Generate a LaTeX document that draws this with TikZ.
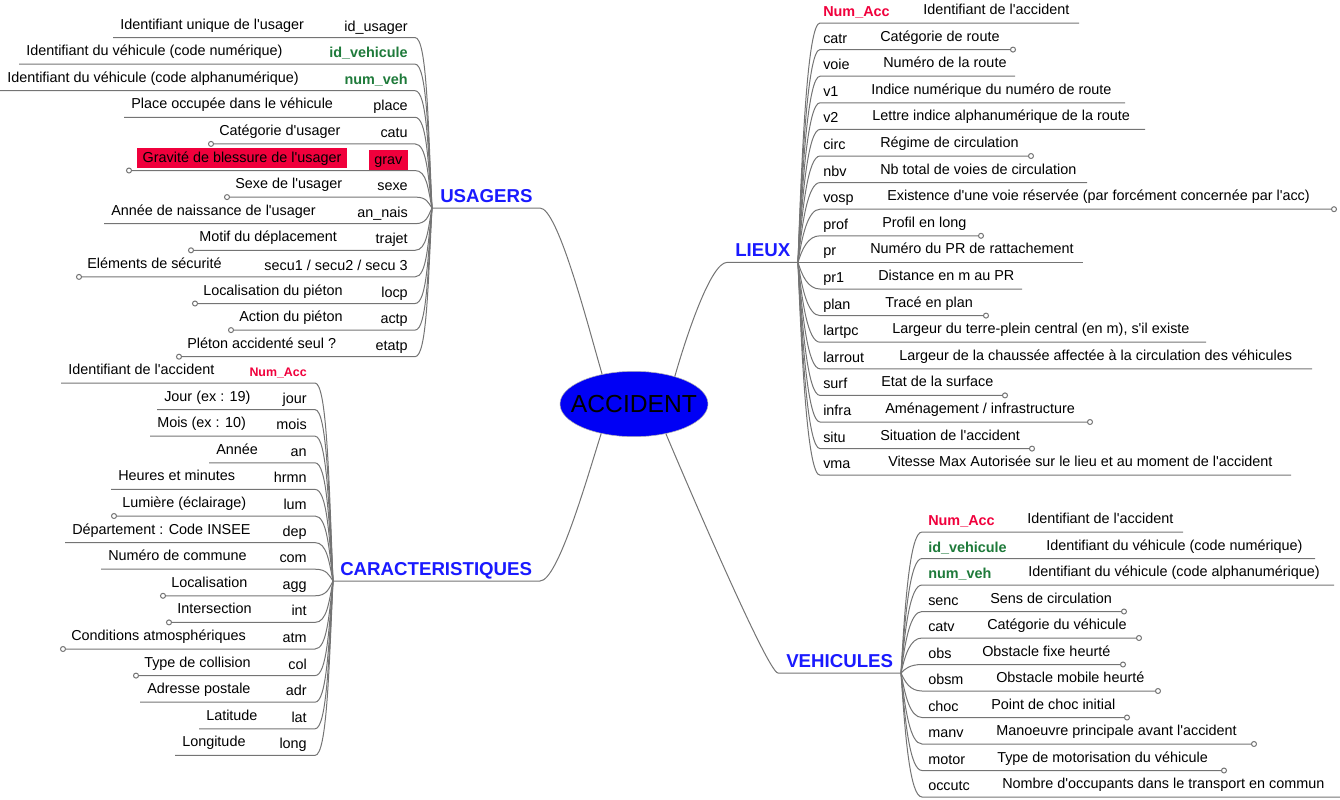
\documentclass[tikz,border=0pt]{standalone}
\usepackage{fontspec}
\setmainfont{Liberation Sans}[Ligatures=TeXOff]
\usepackage{tikz}
\usetikzlibrary{calc,arrows.meta,shapes.geometric}
\definecolor{topicblue}{HTML}{1A1AFF}
\definecolor{hubfill}{HTML}{0000F5}
\definecolor{keyred}{HTML}{F0003C}
\definecolor{keygreen}{HTML}{1E7A3A}
\definecolor{linegray}{HTML}{747474}
\tikzset{
  % --- centre and main topics ---
  centre/.style={ellipse, draw=gray!60, fill=hubfill, inner sep=0pt,
                 minimum width=111pt, minimum height=49pt,
                 font=\fontsize{18.5}{20}\selectfont},
  topic/.style={font=\fontsize{14}{16}\selectfont\bfseries, text=topicblue,
                anchor=base west, inner sep=0pt},
  link/.style={draw=linegray, line width=0.75pt},
  % --- field rows (code + description on one underline) ---
  field/.style={font=\fontsize{10.8}{13}\selectfont, inner sep=0pt,
                text height=8pt, text depth=2.2pt},
  rowcode/.style={field},
  rowdesc/.style={field},
  keyacc/.style={text=keyred, font=\fontsize{10.8}{13}\selectfont\bfseries},
  keyaccsmall/.style={text=keyred, font=\fontsize{9.3}{11}\selectfont\bfseries},
  keyveh/.style={text=keygreen, font=\fontsize{10.8}{13}\selectfont\bfseries},
  flagged/.style={fill=keyred, inner xsep=4pt, inner ysep=2.5pt},
  twig/.style={link},
  knob/.style={-{Circle[open, length=4.5pt]}, shorten >=-3pt},
}
% row on the left of its hub: [code style]{name}{y}{far x}{code}{description}{line style}
\newcommand{\lrow}[7][]{%
  \coordinate (#2-far) at (#4,#3);
  \node[rowcode,#1,anchor=base east] (#2) at (\codex,#3-6.5) {#5};
  \node[rowdesc,anchor=base west] (#2-txt) at (#4+7,#3-8.5) {#6};
  \draw[twig,#7] (\hub) .. controls (\hubx-4,{(#3+\huby)/2}) and (\bendx+12,#3)
        .. (\bendx,#3) -- (#2-far);
}
% row on the right of its hub: [code style]{name}{y}{description x}{far x}{code}{description}{line style}
\newcommand{\rrow}[8][]{%
  \coordinate (#2-far) at (#5,#3);
  \node[rowcode,#1,anchor=base west] (#2) at (\codex,#3-6.5) {#6};
  \node[rowdesc,anchor=base west] (#2-txt) at (#4,#3-8.5) {#7};
  \draw[twig,#8] (\hub) .. controls (\hubx+4,{(#3+\huby)/2}) and (\bendx-12,#3)
        .. (\bendx,#3) -- (#2-far);
}

\begin{document}
\begin{tikzpicture}[x=0.75pt, y=-0.75pt]
  \useasboundingbox (0,0) rectangle (1340,800);

  % centre
  \node[centre] (acc) at (634,404) {\makebox[0pt]{ACCIDENT}};

  % main topics, each with its underline running from its hub
  \coordinate (uhub) at (432,208);   \coordinate (uknee) at (540,208);
  \coordinate (chub) at (333,581);   \coordinate (cknee) at (540,581);
  \coordinate (lhub) at (798,262.4); \coordinate (lknee) at (727,262.4);
  \coordinate (vhub) at (901,673);   \coordinate (vknee) at (778,673);
  \node[topic] (usagers) at (440,202)   {USAGERS};
  \node[topic] (caract)  at (340,575)   {CARACTERISTIQUES};
  \node[topic] (lieux)   at (735,256.4) {LIEUX};
  \node[topic] (vehic)   at (786,667)   {VEHICULES};
  \draw[link] (uhub) -- (uknee) .. controls +(18,0) and +(-14,-48) .. (acc.137);
  \draw[link] (chub) -- (cknee) .. controls +(18,0) and +(-14,44) .. (acc.222);
  \draw[link] (lhub) -- (lknee) .. controls +(-16,0) and +(12,-42) .. (acc.34);
  \draw[link] (vhub) -- (vknee) .. controls +(-10,0) and +(22,52) .. (acc.317);

  % USAGERS
  \def\hub{uhub}\def\hubx{432}\def\huby{208}\def\bendx{415}\def\codex{408}
  \lrow{u-idusager}{37.5}{113}{id\_usager}{Identifiant unique de l'usager}{}
  \lrow[keyveh]{u-idveh}{64.1}{19}{id\_vehicule}{Identifiant du véhicule (code numérique)}{}
  \lrow[keyveh]{u-numveh}{90.7}{0}{num\_veh}{Identifiant du véhicule (code alphanumérique)}{}
  \lrow{u-place}{117.3}{124}{place}{Place occupée dans le véhicule}{}
  \lrow{u-catu}{143.9}{212}{catu}{Catégorie d'usager}{knob}
  \begin{scope}[rowdesc/.style={field,flagged}]
    \lrow[flagged]{u-grav}{170.5}{130}{grav}{Gravité de blessure de l'usager}{knob}
  \end{scope}
  \lrow{u-sexe}{197.1}{228}{sexe}{Sexe de l'usager}{knob}
  \lrow{u-annais}{223.7}{104}{an\_nais}{Année de naissance de l'usager}{}
  \lrow{u-trajet}{250.3}{192}{trajet}{Motif du déplacement}{knob}
  \lrow{u-secu}{276.9}{80}{secu1 / secu2 / secu 3}{Eléments de sécurité}{knob}
  \lrow{u-locp}{303.5}{196}{locp}{Localisation du piéton}{knob}
  \lrow{u-actp}{330.1}{232}{actp}{Action du piéton}{knob}
  \lrow{u-etatp}{356.7}{180}{etatp}{Pléton accidenté seul ?}{knob}

  % CARACTERISTIQUES
  \def\hub{chub}\def\hubx{333}\def\huby{581}\def\bendx{315}\def\codex{307}
  \lrow[keyaccsmall]{c-numacc}{383}{61}{Num\_Acc}{Identifiant de l'accident}{}
  \lrow{c-jour}{409.6}{157}{jour}{Jour (ex : 19)}{}
  \lrow{c-mois}{436.2}{150}{mois}{Mois (ex : 10)}{}
  \lrow{c-an}{462.8}{209}{an}{Année}{}
  \lrow{c-hrmn}{489.4}{111}{hrmn}{Heures et minutes}{}
  \lrow{c-lum}{516}{115}{lum}{Lumière (éclairage)}{knob}
  \lrow{c-dep}{542.6}{65}{dep}{Département : Code INSEE}{}
  \lrow{c-com}{569.2}{101}{com}{Numéro de commune}{}
  \lrow{c-agg}{595.8}{164}{agg}{Localisation}{knob}
  \lrow{c-int}{622.4}{170}{int}{Intersection}{knob}
  \lrow{c-atm}{649}{64}{atm}{Conditions atmosphériques}{knob}
  \lrow{c-col}{675.6}{137}{col}{Type de collision}{knob}
  \lrow{c-adr}{702.2}{140}{adr}{Adresse postale}{}
  \lrow{c-lat}{728.8}{199}{lat}{Latitude}{}
  \lrow{c-long}{755.4}{175}{long}{Longitude}{}

  % LIEUX
  \def\hub{lhub}\def\hubx{798}\def\huby{262.4}\def\bendx{820}\def\codex{823}
  \rrow[keyacc]{l-numacc}{23}{923}{1079}{Num\_Acc}{Identifiant de l'accident}{}
  \rrow{l-catr}{49.6}{880}{1012}{catr}{Catégorie de route}{knob}
  \rrow{l-voie}{76.2}{883}{1015}{voie}{Numéro de la route}{}
  \rrow{l-v1}{102.8}{871}{1125}{v1}{Indice numérique du numéro de route}{}
  \rrow{l-v2}{129.4}{872}{1145}{v2}{Lettre indice alphanumérique de la route}{}
  \rrow{l-circ}{156}{880}{1030}{circ}{Régime de circulation}{knob}
  \rrow{l-nbv}{182.6}{880}{1087}{nbv}{Nb total de voies de circulation}{}
  \rrow{l-vosp}{209.2}{887}{1333}{vosp}{Existence d'une voie réservée (par forcément concernée par l'acc)}{knob}
  \rrow{l-prof}{235.8}{882}{980}{prof}{Profil en long}{knob}
  \rrow{l-pr}{262.4}{870}{1083}{pr}{Numéro du PR de rattachement}{}
  \rrow{l-pr1}{289}{878}{1022}{pr1}{Distance en m au PR}{}
  \rrow{l-plan}{315.6}{885}{985}{plan}{Tracé en plan}{knob}
  \rrow{l-lartpc}{342.2}{892}{1206}{lartpc}{Largeur du terre-plein central (en m), s'il existe}{}
  \rrow{l-larrout}{368.8}{899}{1312}{larrout}{Largeur de la chaussée affectée à la circulation des véhicules}{}
  \rrow{l-surf}{395.4}{881}{1004}{surf}{Etat de la surface}{knob}
  \rrow{l-infra}{422}{885}{1089}{infra}{Aménagement / infrastructure}{knob}
  \rrow{l-situ}{448.6}{880}{1031}{situ}{Situation de l'accident}{knob}
  \rrow{l-vma}{475.2}{888}{1291}{vma}{Vitesse Max Autorisée sur le lieu et au moment de l'accident}{}

  % VEHICULES
  \def\hub{vhub}\def\hubx{901}\def\huby{673}\def\bendx{922}\def\codex{928}
  \rrow[keyacc]{v-numacc}{532}{1027}{1183}{Num\_Acc}{Identifiant de l'accident}{}
  \rrow[keyveh]{v-idveh}{558.5}{1046}{1315}{id\_vehicule}{Identifiant du véhicule (code numérique)}{}
  \rrow[keyveh]{v-numveh}{585}{1028}{1334}{num\_veh}{Identifiant du véhicule (code alphanumérique)}{}
  \rrow{v-senc}{611.5}{990}{1123}{senc}{Sens de circulation}{knob}
  \rrow{v-catv}{638}{987}{1138}{catv}{Catégorie du véhicule}{knob}
  \rrow{v-obs}{664.5}{982}{1122}{obs}{Obstacle fixe heurté}{knob}
  \rrow{v-obsm}{691}{996}{1157}{obsm}{Obstacle mobile heurté}{knob}
  \rrow{v-choc}{717.5}{991}{1126}{choc}{Point de choc initial}{knob}
  \rrow{v-manv}{744}{996}{1253}{manv}{Manoeuvre principale avant l'accident}{knob}
  \rrow{v-motor}{770.5}{997}{1223}{motor}{Type de motorisation du véhicule}{knob}
  \rrow{v-occutc}{797}{1002}{1340}{occutc}{Nombre d'occupants dans le transport en commun}{}
\end{tikzpicture}
\end{document}
